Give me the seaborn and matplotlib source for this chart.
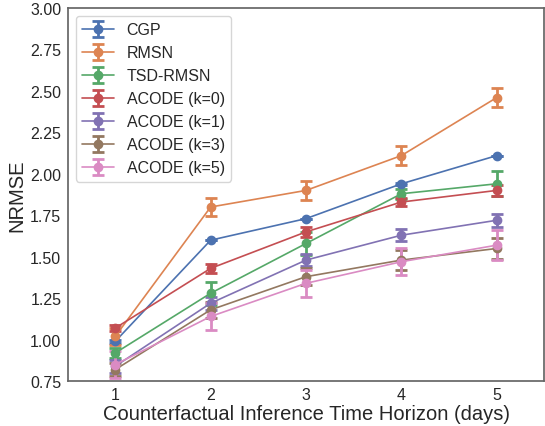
import matplotlib
matplotlib.use("Agg")
import matplotlib.pyplot as plt
import seaborn as sns

horizons = [1, 2, 3, 4, 5]

methods = ['CGP', 'RMSN', 'TSD-RMSN', 'ACODE (k=0)', 'ACODE (k=1)',
           'ACODE (k=3)', 'ACODE (k=5)']

cgp = [0.99, 1.60, 1.73, 1.94, 2.11]
cgp_err = [0.01, 0.0, 0.0, 0.005, 0.0]
rmsn = [1.02, 1.80, 1.90, 2.11, 2.46]
rmsn_err = [0.05, 0.055, 0.055, 0.055, 0.06]
tsd_rmsn = [0.92, 1.28, 1.58, 1.88, 1.94]
tsd_rmsn_err = [0.03, 0.07, 0.07, 0.03, 0.075]
acode_k0 = [1.07, 1.43, 1.65, 1.83, 1.90]
acode_k0_err = [0.02, 0.025, 0.03, 0.025, 0.035]
acode_k1 = [0.84, 1.22, 1.48, 1.63, 1.72]
acode_k1_err = [0.04, 0.04, 0.035, 0.035, 0.04]
acode_k3 = [0.82, 1.18, 1.38, 1.48, 1.55]
acode_k3_err = [0.04, 0.05, 0.05, 0.06, 0.065]
acode_k5 = [0.85, 1.14, 1.34, 1.47, 1.57]
acode_k5_err = [0.08, 0.08, 0.08, 0.08, 0.09]

means = [cgp, rmsn, tsd_rmsn, acode_k0, acode_k1, acode_k3, acode_k5]
errs = [cgp_err, rmsn_err, tsd_rmsn_err, acode_k0_err, acode_k1_err,
        acode_k3_err, acode_k5_err]

sns.set_theme(style='white')
plt.rcParams['font.family'] = ['Liberation Sans', 'DejaVu Sans']
colors = sns.color_palette('deep', len(methods))

fig = plt.figure(figsize=(5.45, 4.27), dpi=100)
ax = fig.add_axes([0.124, 0.105, 0.875, 0.874])

for name, m, e, c in zip(methods, means, errs, colors):
    ax.errorbar(horizons, m, yerr=e, label=name, color=c, marker='o',
                markersize=6, linewidth=1.2, elinewidth=2, capsize=4,
                capthick=2)

ax.set_xlim(0.5, 5.5)
ax.set_ylim(0.75, 3.0)
ax.set_xticks(horizons)
ax.set_yticks([0.75, 1.0, 1.25, 1.5, 1.75, 2.0, 2.25, 2.5, 2.75, 3.0])
ax.tick_params(labelsize=11.5, length=0, pad=4.5)
for sp in ax.spines.values():
    sp.set_color('0.4')
ax.set_xlabel('Counterfactual Inference Time Horizon (days)', fontsize=14.5,
              labelpad=1)
ax.set_ylabel('NRMSE', fontsize=14.5, labelpad=3)
ax.legend(loc='upper left', fontsize=11.5)

fig.savefig('out.png', dpi=100)
